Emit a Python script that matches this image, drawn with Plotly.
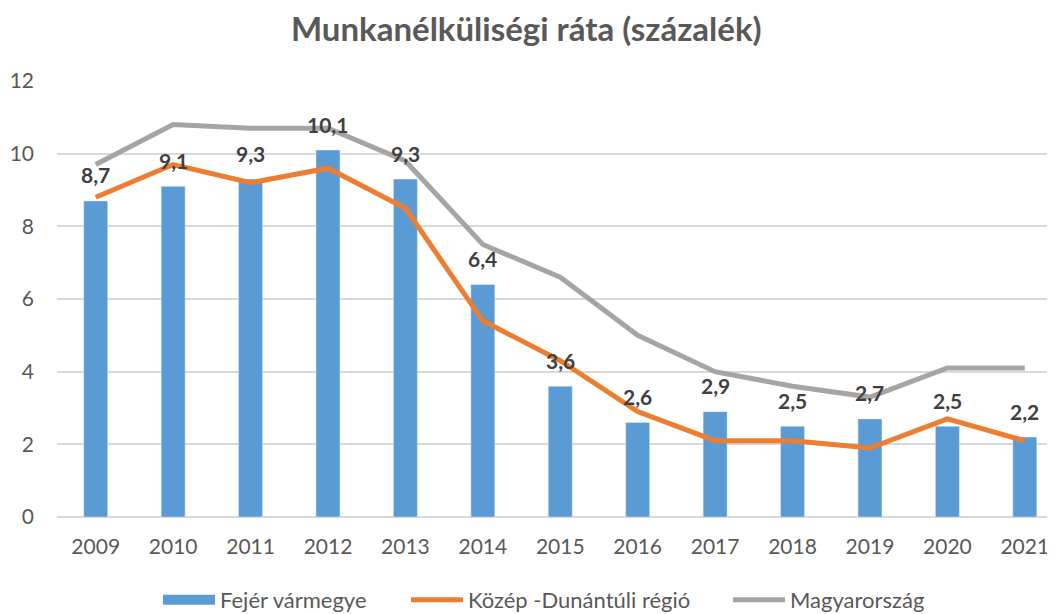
import plotly.graph_objects as go

years = ["2009", "2010", "2011", "2012", "2013", "2014", "2015",
         "2016", "2017", "2018", "2019", "2020", "2021"]
fejer = [8.7, 9.1, 9.3, 10.1, 9.3, 6.4, 3.6, 2.6, 2.9, 2.5, 2.7, 2.5, 2.2]
kozep_dunantul = [8.8, 9.7, 9.2, 9.6, 8.5, 5.4, 4.3, 2.9, 2.1, 2.1, 1.9, 2.7, 2.1]
magyarorszag = [9.7, 10.8, 10.7, 10.7, 9.8, 7.5, 6.6, 5.0, 4.0, 3.6, 3.3, 4.1, 4.1]

FONT = "Lato, Calibri, 'Liberation Sans', sans-serif"
GREY_TXT = "#595959"
BLUE, ORANGE, GREY = "#5B9BD5", "#ED7D31", "#A5A5A5"

fig = go.Figure()

fig.add_trace(go.Bar(
    x=years, y=fejer, name="Fejér vármegye",
    marker=dict(color=BLUE), width=0.31, showlegend=False,
))
fig.add_trace(go.Scatter(
    x=years, y=kozep_dunantul, name="Közép -Dunántúli régió",
    mode="lines", line=dict(color=ORANGE, width=5), legend="legend2",
))
fig.add_trace(go.Scatter(
    x=years, y=magyarorszag, name="Magyarország",
    mode="lines", line=dict(color=GREY, width=5), legend="legend3",
))
# legend key for the bars: Excel shows a wide block, a thick legend line looks closer
fig.add_trace(go.Scatter(
    x=[None], y=[None], name="Fejér vármegye", mode="lines",
    line=dict(color=BLUE, width=12), legend="legend",
))

# data labels over the bars (x given as category index)
for i, v in enumerate(fejer):
    fig.add_annotation(
        x=i, y=v, text="<b>" + f"{v:.1f}".replace(".", ",") + "</b>",
        showarrow=False, yshift=26,
        font=dict(family=FONT, size=21, color="#404040"),
    )

def legend_at(x):
    return dict(
        orientation="h", xref="container", yref="container",
        x=x, xanchor="left", y=0.023, yanchor="middle",
        font=dict(family=FONT, size=22, color=GREY_TXT),
        itemwidth=52, bgcolor="rgba(0,0,0,0)",
    )

# page body has an 8px margin, so the figure is a bit smaller than the window
W, H = 1047, 606
fig.update_layout(
    width=W, height=H,
    paper_bgcolor="white", plot_bgcolor="white",
    margin=dict(l=49, r=0, t=73, b=97),
    title=dict(
        text="<b>Munkanélküliségi ráta (százalék)</b>",
        xref="container", x=0.495, xanchor="center",
        yref="container", y=0.965, yanchor="middle",
        font=dict(family=FONT, size=33, color=GREY_TXT),
    ),
    font=dict(family=FONT, size=21, color=GREY_TXT),
    legend=legend_at(150 / W),
    legend2=legend_at(398 / W),
    legend3=legend_at(720 / W),
    showlegend=True,
)
fig.update_xaxes(
    type="category", range=[-0.5, 12.39],
    showgrid=False, zeroline=False, showline=False, ticks="",
    tickfont=dict(family=FONT, size=21, color=GREY_TXT),
    ticklabelstandoff=15,
)
fig.update_yaxes(
    range=[0, 12], dtick=2, showgrid=True, gridcolor="#D9D9D9", gridwidth=1.5,
    zeroline=True, zerolinecolor="#D9D9D9", zerolinewidth=1.5, showline=False,
    tickfont=dict(family=FONT, size=21, color=GREY_TXT),
    ticklabelstandoff=22,
)

fig.write_html("out.html")
